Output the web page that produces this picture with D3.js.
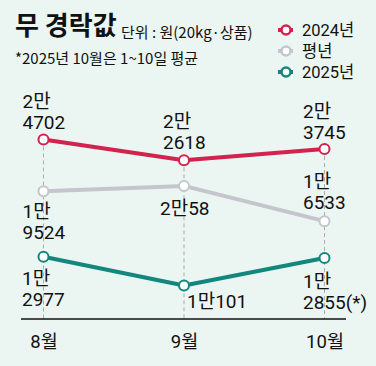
<!DOCTYPE html>
<html><head><meta charset="utf-8">
<script src="https://cdn.jsdelivr.net/npm/d3@7"></script>
<style>
html,body{margin:0;padding:0;background:#EBF5F2;}
svg{display:block;}
text{font-family:Roboto,"Noto Sans CJK KR",sans-serif;fill:#111;}
</style></head>
<body>
<script>
const months = ["8월", "9월", "10월"];
const seriesNames = ["2024년", "평년", "2025년"];
const values2024 = [24702, 22618, 23745];
const valuesNormal = [19524, 20058, 16533];
const values2025 = [12977, 10101, 12855];
const seriesColors = ["#D2224E", "#C4C6CB", "#13877E"];
const title = "무 경락값";
const unitText = "단위 : 원(20kg·상품)";
const noteText = "*2025년 10월은 1~10일 평균";

const series = [
  {name: seriesNames[0], values: values2024, color: seriesColors[0]},
  {name: seriesNames[1], values: valuesNormal, color: seriesColors[1]},
  {name: seriesNames[2], values: values2025, color: seriesColors[2]}
];
// label layout: offset of first baseline from point, whether split in two lines
const labelLayout = [
  [{dx:-21,dy:-31,split:true},{dx:-21,dy:-32,split:true},{dx:-21.5,dy:-31.5,split:true}],
  [{dx:-21,dy:27,split:true},{dx:-24,dy:29,split:false},{dx:-21.5,dy:-33,split:true}],
  [{dx:-21.5,dy:28,split:true},{dx:3,dy:23,split:false},{dx:-21.5,dy:30,split:true,suffix:"(*)"}]
];

const W = 376, H = 366;
const svg = d3.select("body").append("svg").attr("width", W).attr("height", H);
svg.append("rect").attr("width", W).attr("height", H).attr("fill", "#EBF5F2");

const x = d3.scalePoint().domain(months).range([43.5, 324.5]);
const y = d3.scaleLinear().domain([10000, 25000]).range([286.5, 136.5]);
const axisY = 319;

// title
svg.append("text").attr("x", 15).attr("y", 35).attr("font-size", 26).attr("font-weight", 700)
  .style("font-family", "'Noto Sans CJK KR'").text(title);
svg.append("text").attr("x", 121).attr("y", 38).attr("font-size", 15)
  .style("font-family", "'Noto Sans CJK KR'").attr("fill", "#222").text(unitText);
svg.append("text").attr("x", 15).attr("y", 64).attr("font-size", 15)
  .style("font-family", "'Noto Sans CJK KR'").attr("fill", "#222").text(noteText);

// legend
const leg = svg.append("g");
series.forEach((s, i) => {
  const ly = 30 + i * 21;
  leg.append("line").attr("x1", 278).attr("x2", 293).attr("y1", ly).attr("y2", ly)
    .attr("stroke", s.color).attr("stroke-width", 4);
  leg.append("circle").attr("cx", 286).attr("cy", ly).attr("r", 4.5)
    .attr("fill", "#fff").attr("stroke", s.color).attr("stroke-width", 2.5);
  leg.append("text").attr("x", 302).attr("y", ly + 6).attr("font-size", 16.5).text(s.name);
});

// dashed guides
months.forEach((m, i) => {
  const top = d3.min(series, s => y(s.values[i]));
  svg.append("line").attr("x1", x(m)).attr("x2", x(m)).attr("y1", top).attr("y2", axisY)
    .attr("stroke", "#A9ADAD").attr("stroke-width", 1).attr("stroke-dasharray", "4,3");
});

// axis
const xAxis = d3.axisBottom(x).tickSize(0).tickPadding(16);
const ax = svg.append("g").attr("transform", `translate(0,${axisY})`).call(xAxis);
ax.select(".domain").remove();
ax.selectAll("text").attr("font-size", 18.5).attr("fill", "#111")
  .style("font-family", "Roboto,'Noto Sans CJK KR'");
svg.append("line").attr("x1", 21).attr("x2", 346).attr("y1", axisY).attr("y2", axisY)
  .attr("stroke", "#111").attr("stroke-width", 1.5);

// lines
const line = d3.line().x((d, i) => x(months[i])).y(d => y(d));
series.forEach(s => {
  svg.append("path").attr("d", line(s.values)).attr("fill", "none")
    .attr("stroke", s.color).attr("stroke-width", 4).attr("stroke-linejoin", "round");
});
series.forEach(s => {
  svg.selectAll(null).data(s.values).enter().append("circle")
    .attr("cx", (d, i) => x(months[i])).attr("cy", d => y(d)).attr("r", 5)
    .attr("fill", "#fff").attr("stroke", s.color).attr("stroke-width", 2);
});

// value labels
series.forEach((s, si) => {
  s.values.forEach((v, i) => {
    const L = labelLayout[si][i];
    const man = Math.floor(v / 10000) + "만";
    const rest = String(v % 10000) + (L.suffix || "");
    const px = x(months[i]) + L.dx, py = y(v) + L.dy;
    const t = svg.append("text").attr("x", px).attr("y", py).attr("font-size", 19);
    if (L.split) {
      t.append("tspan").attr("x", px).text(man);
      t.append("tspan").attr("x", px).attr("dy", 21).text(rest);
    } else {
      t.text(man + rest);
    }
  });
});
</script>
</body></html>
